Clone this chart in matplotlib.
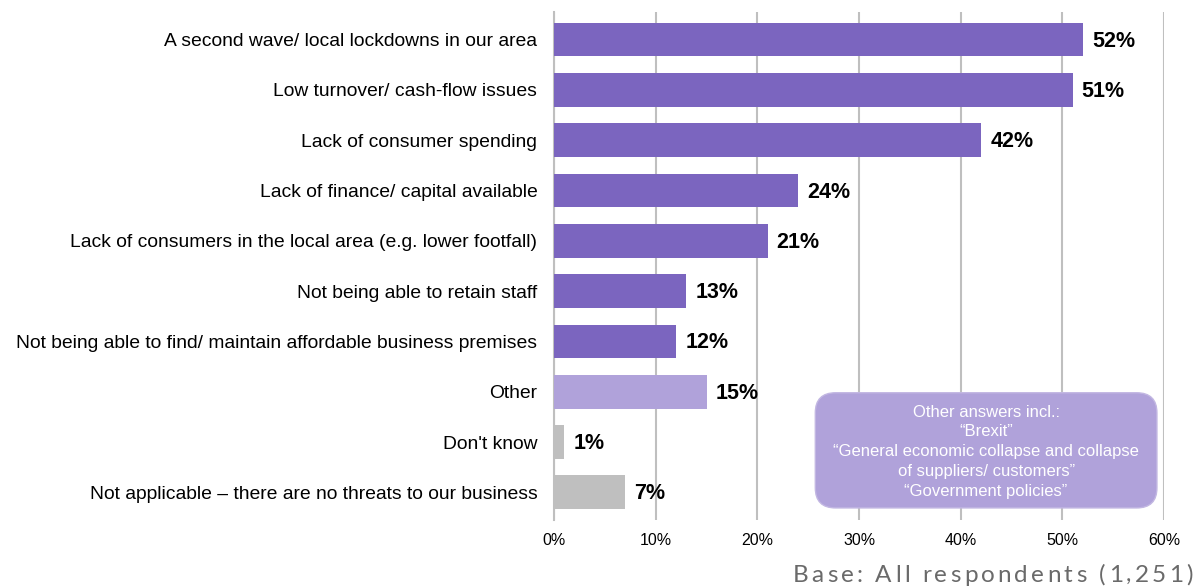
import matplotlib.pyplot as plt
from matplotlib.patches import FancyBboxPatch
from matplotlib.ticker import FuncFormatter
from matplotlib.font_manager import FontProperties

plt.rcParams['font.family'] = ['Liberation Sans', 'DejaVu Sans']

categories = ['A second wave/ local lockdowns in our area',
              'Low turnover/ cash-flow issues',
              'Lack of consumer spending',
              'Lack of finance/ capital available',
              'Lack of consumers in the local area (e.g. lower footfall)',
              'Not being able to retain staff',
              'Not being able to find/ maintain affordable business premises',
              'Other',
              "Don't know",
              'Not applicable \u2013 there are no threats to our business']
values = [52, 51, 42, 24, 21, 13, 12, 15, 1, 7]
groups = ['threat'] * 7 + ['other', 'none', 'none']

other_note = ['Other answers incl.:',
              '\u201cBrexit\u201d',
              '\u201cGeneral economic collapse and collapse',
              'of suppliers/ customers\u201d',
              '\u201cGovernment policies\u201d']
base_note = 'Base: All respondents (1,251)'

colours = {'threat': '#7B65BF', 'other': '#B0A2DA', 'none': '#BFBFBF'}
grid_col = '#BFBFBF'

fig = plt.figure(figsize=(11.95, 5.86), dpi=100)
ax = fig.add_axes([0.4636, 0.1126, 0.5105, 0.867])

ypos = list(range(len(categories)))
ax.barh(ypos, values, height=0.67, color=[colours[g] for g in groups], zorder=3)

for y, v in zip(ypos, values):
    ax.text(v + 0.9, y + 0.03, f'{v}%', va='center', ha='left', fontsize=15.5,
            fontweight='bold', color='black', zorder=4)

ax.set_xlim(0, 60)
ax.set_ylim(9.55, -0.55)
ax.set_xticks(range(0, 61, 10))
ax.xaxis.set_major_formatter(FuncFormatter(lambda x, _: f'{x:.0f}%'))
ax.set_yticks(ypos)
ax.set_yticklabels(categories, fontsize=13.9)
ax.tick_params(axis='both', length=0, colors='black')
ax.tick_params(axis='x', labelsize=11.5, pad=9)
ax.tick_params(axis='y', pad=12)

ax.xaxis.grid(True, color=grid_col, linewidth=1.5, zorder=0)
for s in ['top', 'right', 'bottom']:
    ax.spines[s].set_visible(False)
ax.spines['left'].set_color(grid_col)
ax.spines['left'].set_linewidth(1.5)
ax.spines['left'].set_zorder(1)

# call-out box listing some of the "Other" answers
box = FancyBboxPatch((25.7, 7.02), 33.6, 2.29,
                     boxstyle='round,pad=0,rounding_size=2.0',
                     mutation_aspect=0.2,
                     facecolor='#B0A2DA', edgecolor='#C2B7E2', linewidth=1,
                     zorder=5)
ax.add_patch(box)
ax.text(42.5, 8.19, '\n'.join(other_note), ha='center', va='center',
        fontsize=12, color='white', linespacing=1.4, zorder=6)

# base note, drawn letter by letter to get the wide tracking
renderer = fig.canvas.get_renderer()
prop = FontProperties(family=['Lato', 'DejaVu Sans'], size=17.5)
tracking = 3.2  # px between letters


def adv(s):
    w, _, _ = renderer.get_text_width_height_descent(s + 'l', prop, ismath=False)
    w0, _, _ = renderer.get_text_width_height_descent('l', prop, ismath=False)
    return w - w0


W, H = fig.bbox.width, fig.bbox.height
total = adv(base_note) + tracking * (len(base_note) - 1)
x0 = 1193 - total
for i, ch in enumerate(base_note):
    if ch == ' ':
        continue
    x = x0 + adv(base_note[:i]) + tracking * i
    fig.text(x / W, 4.5 / H, ch, ha='left', va='baseline', fontproperties=prop,
             color='#6A6A6A')

fig.savefig('out.png', dpi=100)
